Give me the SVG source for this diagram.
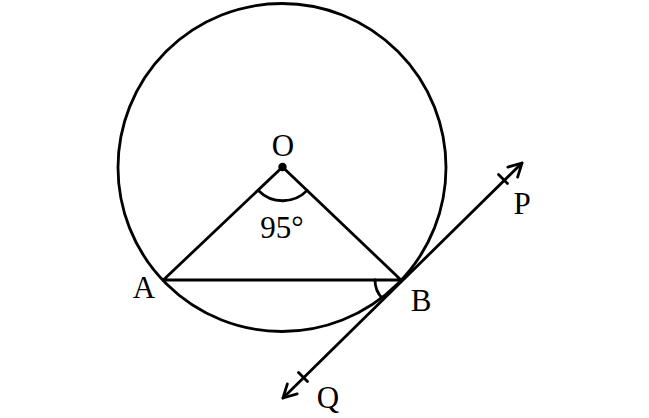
<svg xmlns="http://www.w3.org/2000/svg" width="649" height="418" viewBox="0 0 649 418">
<style>
.s{fill:none;stroke:#000;stroke-width:2.8;stroke-linecap:round;stroke-linejoin:round}
.t{font-family:"Liberation Serif","Times New Roman",serif;font-size:31px;fill:#000;text-anchor:middle}
</style>
<defs>
<marker id="arr" markerUnits="userSpaceOnUse" markerWidth="30" markerHeight="30" refX="0" refY="0" viewBox="-15 -15 30 30" orient="auto-start-reverse">
<path d="M -13 -7 L 0 0 L -13 7" fill="none" stroke="#000" stroke-width="2.8" stroke-linecap="round" stroke-linejoin="round"/>
</marker>
</defs>
<rect width="649" height="418" fill="#fff"/>
<g id="circle">
<circle class="s" cx="282" cy="167.5" r="164"/>
</g>
<g id="connectors">
<path class="s" d="M 282.5 167 L 163.3 280 L 401 280 Z"/>
<line class="s" x1="283" y1="398" x2="522" y2="163" marker-start="url(#arr)" marker-end="url(#arr)"/>
<line class="s" x1="498.5" y1="174.5" x2="507.5" y2="183.5"/>
<line class="s" x1="298.5" y1="372.5" x2="307.5" y2="381.5"/>
<path class="s" d="M 258.6 190.7 A 34 34 0 0 0 307.2 190.4"/>
<path class="s" d="M 375 280 A 26 26 0 0 0 382.5 298.5"/>
</g>
<g id="O">
<circle cx="282.5" cy="167" r="4.2" fill="#000"/>
<text class="t" x="283" y="156">O</text>
</g>
<g id="angle">
<text class="t" x="282" y="238" font-size="34">95°</text>
</g>
<g id="A"><text class="t" x="144" y="298">A</text></g>
<g id="B"><text class="t" x="421" y="311">B</text></g>
<g id="P"><text class="t" x="522" y="214">P</text></g>
<g id="Q"><text class="t" x="328" y="408">Q</text></g>
</svg>
